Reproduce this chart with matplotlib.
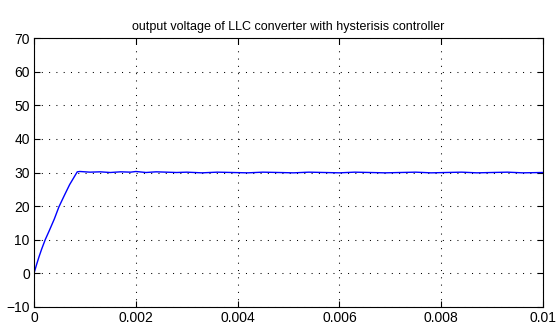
import matplotlib
matplotlib.use("Agg")
import matplotlib.pyplot as plt

# start-up ramp of the output voltage
ramp_t = [0.0, 0.00005, 0.0001, 0.00015, 0.00022, 0.0003, 0.0004, 0.00049, 0.0006, 0.0007, 0.00085]
ramp_v = [0.0, 2.6, 5.0, 7.2, 10.0, 12.7, 16.2, 19.8, 23.3, 26.4, 30.2]

# steady state around 30 V (hysteresis ripple)
flat_t = [0.0009, 0.0011, 0.0013, 0.0015, 0.0017, 0.0019, 0.002, 0.0022, 0.0024, 0.0026,
          0.0028, 0.003, 0.0033, 0.0036, 0.0039, 0.0042, 0.0045, 0.0048, 0.0051,
          0.0054, 0.0057, 0.006, 0.0063, 0.0066, 0.0069, 0.0072, 0.0075, 0.0078,
          0.0081, 0.0084, 0.0087, 0.009, 0.0093, 0.0096, 0.01]
flat_v = [30.3, 30.1, 30.2, 30.0, 30.2, 30.1, 30.3, 30.0, 30.2, 30.1,
          30.0, 30.1, 29.9, 30.1, 30.0, 29.9, 30.1, 30.0, 29.9,
          30.1, 30.0, 29.9, 30.1, 30.0, 29.9, 30.0, 30.1, 29.9,
          30.0, 30.1, 29.9, 30.0, 30.1, 29.9, 30.0]

x_ticks = [0, 0.002, 0.004, 0.006, 0.008, 0.01]
x_labels = ["0", "0.002", "0.004", "0.006", "0.008", "0.01"]
y_ticks = [-10, 0, 10, 20, 30, 40, 50, 60, 70]

plt.rcParams['font.family'] = ['Liberation Sans', 'DejaVu Sans']

fig = plt.figure(figsize=(5.57, 3.27), dpi=100)
ax = fig.add_axes([34 / 557, 20 / 327, 509 / 557, 269 / 327])

ax.plot(ramp_t + flat_t, ramp_v + flat_v, color='#0000ff', lw=1.0)

ax.set_xlim(0, 0.01)
ax.set_ylim(-10, 70)
ax.set_xticks(x_ticks)
ax.set_xticklabels(x_labels)
ax.set_yticks(y_ticks)
ax.tick_params(direction='in', length=4, width=0.8, top=True, right=True,
               labelsize=10, colors='black', pad=3)
for s in ax.spines.values():
    s.set_linewidth(0.8)
    s.set_color('black')
ax.grid(True, color='black', linestyle=(0, (1, 6)), linewidth=0.75)

ax.set_title("output voltage of LLC converter with hysterisis controller", fontsize=9, pad=6)

fig.savefig("out.png", dpi=100)
